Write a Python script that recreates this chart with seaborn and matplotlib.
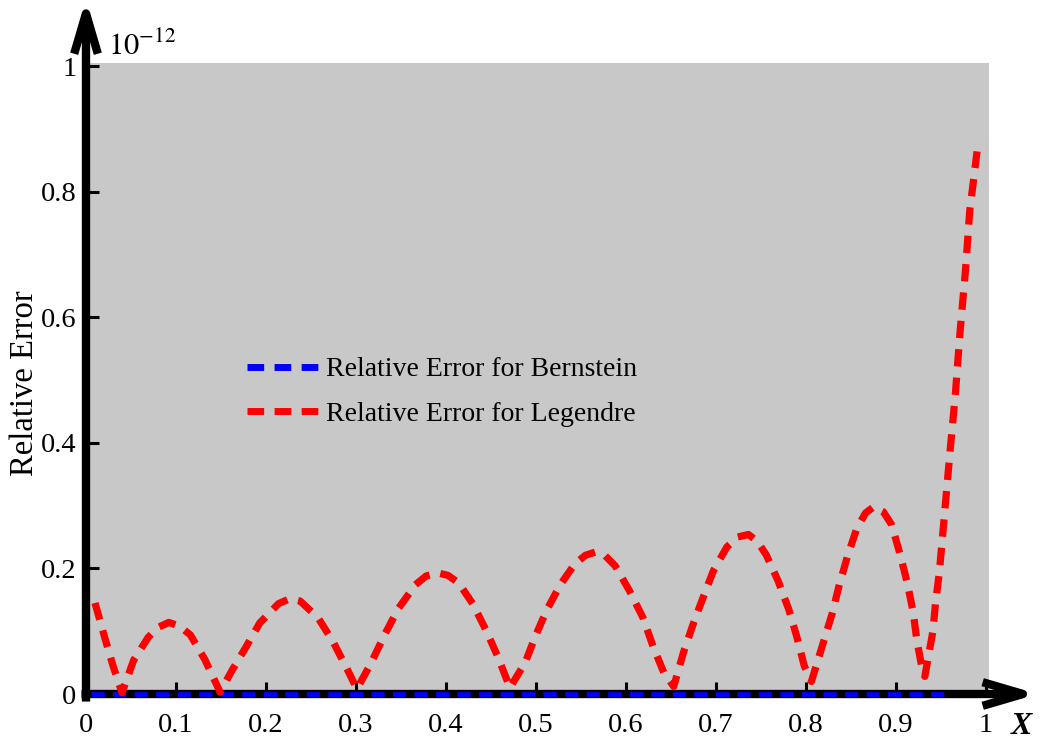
import matplotlib
matplotlib.use("Agg")
import matplotlib.pyplot as plt
from matplotlib.lines import Line2D
import seaborn as sns
import pandas as pd

# ---------------- data ----------------
legendre_x = [0.010, 0.021, 0.030, 0.040, 0.053, 0.069, 0.080, 0.092, 0.104, 0.116,
              0.132, 0.149, 0.162, 0.177, 0.193, 0.214, 0.227, 0.238, 0.258, 0.275,
              0.290, 0.301, 0.317, 0.332, 0.347, 0.366, 0.378, 0.390, 0.402, 0.414,
              0.430, 0.445, 0.458, 0.471, 0.488, 0.499, 0.512, 0.527, 0.543, 0.555,
              0.566, 0.577, 0.588, 0.604, 0.619, 0.630, 0.642, 0.653, 0.664, 0.675,
              0.686, 0.697, 0.712, 0.724, 0.736, 0.746, 0.756, 0.769, 0.781, 0.790,
              0.798, 0.806, 0.819, 0.829, 0.837, 0.846, 0.856, 0.866, 0.875, 0.886,
              0.895, 0.904, 0.912, 0.919, 0.923, 0.929, 0.932, 0.936, 0.941, 0.944,
              0.948, 0.951, 0.954, 0.960, 0.966, 0.971, 0.977, 0.982, 0.988, 0.990]
legendre_y = [0.145, 0.089, 0.045, 0.002, 0.054, 0.090, 0.106, 0.114, 0.108, 0.094,
              0.055, 0.003, 0.037, 0.073, 0.113, 0.144, 0.152, 0.148, 0.121, 0.082,
              0.040, 0.008, 0.050, 0.095, 0.136, 0.174, 0.188, 0.193, 0.189, 0.177,
              0.143, 0.100, 0.058, 0.010, 0.050, 0.091, 0.134, 0.174, 0.207, 0.221,
              0.226, 0.220, 0.204, 0.164, 0.121, 0.076, 0.034, 0.012, 0.067, 0.113,
              0.155, 0.196, 0.234, 0.250, 0.254, 0.243, 0.221, 0.180, 0.134, 0.090,
              0.045, 0.020, 0.081, 0.128, 0.174, 0.219, 0.262, 0.288, 0.298, 0.290,
              0.270, 0.225, 0.180, 0.131, 0.087, 0.040, 0.028, 0.060, 0.100, 0.147,
              0.192, 0.240, 0.289, 0.386, 0.479, 0.574, 0.672, 0.771, 0.840, 0.864]

bernstein_x = [0.005, 0.1, 0.2, 0.3, 0.4, 0.5, 0.6, 0.7, 0.8, 0.9, 0.958]
bernstein_y = [0.0, 0.0, 0.0, 0.0, 0.0, 0.0, 0.0, 0.0, 0.0, 0.0, 0.0]

x_ticks = [0, 0.1, 0.2, 0.3, 0.4, 0.5, 0.6, 0.7, 0.8, 0.9, 1.0]
x_tick_labels = ["0", "0.1", "0.2", "0.3", "0.4", "0.5", "0.6", "0.7", "0.8", "0.9", "1"]
y_ticks = [0, 0.2, 0.4, 0.6, 0.8, 1.0]
y_tick_labels = ["0", "0.2", "0.4", "0.6", "0.8", "1"]

label_bern = "Relative Error for Bernstein"
label_leg = "Relative Error for Legendre"

# ---------------- style ----------------
sns.set_style("white", {"axes.facecolor": "#c8c8c8"})
plt.rcParams["font.family"] = ["Liberation Serif", "DejaVu Serif"]
plt.rcParams["mathtext.fontset"] = "stix"
plt.rcParams["lines.scale_dashes"] = False
for k in ["text.color", "axes.labelcolor", "xtick.color", "ytick.color"]:
    plt.rcParams[k] = "black"

W, H = 1045, 743
fig = plt.figure(figsize=(W / 100, H / 100), dpi=100)
ax = fig.add_axes([86 / W, 49 / H, 903 / W, 631 / H])

df_b = pd.DataFrame({"x": bernstein_x, "y": bernstein_y})
df_l = pd.DataFrame({"x": legendre_x, "y": legendre_y})

sns.lineplot(data=df_b, x="x", y="y", color="#0000ff", lw=3.4, ax=ax,
             zorder=5, errorbar=None)
line_b = ax.lines[-1]
line_b.set_dashes([9.5, 6])
line_b.set_clip_on(False)
sns.lineplot(data=df_l, x="x", y="y", color="#ff0000", lw=5.2, ax=ax,
             zorder=6, errorbar=None)
line_l = ax.lines[-1]
line_l.set_dashes([12.5, 8])
line_l.set_clip_on(False)

ax.set_xlim(0, 1.0033)
ax.set_ylim(0, 1.0048)
ax.set_xlabel("")
ax.set_ylabel("")
for s in ax.spines.values():
    s.set_visible(False)

ax.set_xticks(x_ticks)
ax.set_xticklabels(x_tick_labels)
ax.set_yticks(y_ticks)
ax.set_yticklabels(y_tick_labels)
ax.tick_params(axis="both", direction="in", length=9, width=2.2, color="black",
               labelsize=20.5, labelcolor="black", bottom=True, left=True)
ax.tick_params(axis="x", pad=14)
ax.tick_params(axis="y", pad=7)

# thick axis arrows
arrow_kw = dict(arrowstyle="->,head_length=2.9,head_width=0.85", lw=6, color="black",
                shrinkA=0, shrinkB=0, mutation_scale=10, capstyle="butt")
ax.annotate("", xy=(0, 1.102), xytext=(0, -0.012), xycoords="axes fraction",
            textcoords="axes fraction", arrowprops=arrow_kw, annotation_clip=False)
ax.annotate("", xy=(1.054, 0), xytext=(-0.005, 0), xycoords="axes fraction",
            textcoords="axes fraction", arrowprops=arrow_kw, annotation_clip=False)

# legend with custom handles (same dash pattern in the key)
h_b = Line2D([], [], color="#0000ff", lw=5, dashes=[12, 7.5])
h_l = Line2D([], [], color="#ff0000", lw=5, dashes=[12, 7.5])
leg = ax.legend(handles=[h_b, h_l], labels=[label_bern, label_leg],
                loc="upper left", bbox_to_anchor=(247 / W, 1 - 357 / H),
                bbox_transform=fig.transFigure, frameon=False, fontsize=20,
                handlelength=2.6, handletextpad=0.25, labelspacing=0.68, borderpad=0,
                borderaxespad=0)

# labels
fig.text(25 / W, 1 - 383 / H, "Relative Error", rotation=90, ha="center", va="center",
         fontsize=23.5)
fig.text(108 / W, 1 - 55 / H, r"$10^{-12}$", ha="left", va="baseline", fontsize=22)
fig.text(1021 / W, 2 / H, "X", ha="center", va="bottom", fontsize=23,
         fontweight="bold", fontstyle="italic")

fig.savefig("out.png", dpi=100)
